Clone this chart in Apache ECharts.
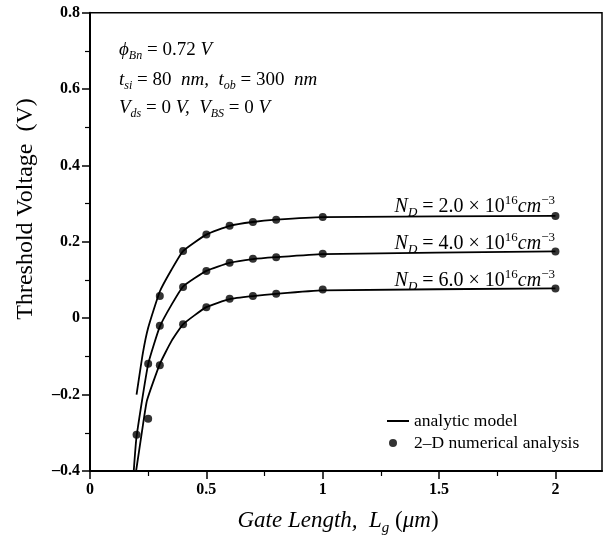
<!DOCTYPE html>
<html>
<head>
<meta charset="utf-8">
<script src="https://cdn.jsdelivr.net/npm/echarts@6/dist/echarts.min.js"></script>
<style>
  html, body { margin: 0; padding: 0; background: #fff; }
  #chart { width: 604px; height: 541px; }
</style>
</head>
<body>
<div id="chart"></div>
<script>
// ---------- data ----------
// analytic model curves (x in um, Vth in V)
const lineX_2e16 = [0.2, 0.227, 0.25, 0.3, 0.35, 0.4, 0.5, 0.6, 0.7, 0.8, 1.0, 2.0];
const lineY_2e16 = [-0.2, -0.092, -0.025, 0.07, 0.127, 0.176, 0.219, 0.242, 0.252, 0.258, 0.265, 0.268];
const lineX_4e16 = [0.188, 0.2, 0.25, 0.3, 0.35, 0.4, 0.5, 0.6, 0.7, 0.8, 1.0, 2.0];
const lineY_4e16 = [-0.4, -0.31, -0.12, -0.022, 0.035, 0.083, 0.124, 0.145, 0.155, 0.16, 0.168, 0.175];
const lineX_6e16 = [0.198, 0.225, 0.245, 0.3, 0.35, 0.4, 0.5, 0.6, 0.7, 0.8, 1.0, 2.0];
const lineY_6e16 = [-0.4, -0.29, -0.215, -0.12, -0.06, -0.016, 0.029, 0.05, 0.058, 0.064, 0.073, 0.078];

// 2-D numerical analysis points
const ptsX_2e16 = [0.3, 0.4, 0.5, 0.6, 0.7, 0.8, 1.0, 2.0];
const ptsY_2e16 = [0.058, 0.176, 0.219, 0.242, 0.252, 0.258, 0.265, 0.268];
const ptsX_4e16 = [0.2, 0.25, 0.3, 0.4, 0.5, 0.6, 0.7, 0.8, 1.0, 2.0];
const ptsY_4e16 = [-0.305, -0.119, -0.02, 0.082, 0.124, 0.145, 0.156, 0.16, 0.169, 0.175];
const ptsX_6e16 = [0.25, 0.3, 0.4, 0.5, 0.6, 0.7, 0.8, 1.0, 2.0];
const ptsY_6e16 = [-0.263, -0.123, -0.016, 0.029, 0.051, 0.058, 0.064, 0.075, 0.078];

const xMajorTicks = [0, 0.5, 1, 1.5, 2];
const xMinorTicks = [0.25, 0.75, 1.25, 1.75];
const legendNames = ['analytic model', '2\u2013D numerical analysis'];
const curveLabels = ['2.0', '4.0', '6.0'];

// ---------- helpers ----------
const zip = (xs, ys) => xs.map((x, i) => [x, ys[i]]);
const FONT = '"Liberation Serif", "Times New Roman", serif';

function makeRich(size, sub) {
  return {
    n: { fontFamily: FONT, fontSize: size, fontStyle: 'normal', lineHeight: size + 5, fill: '#000' },
    i: { fontFamily: FONT, fontSize: size, fontStyle: 'italic', lineHeight: size + 5, fill: '#000' },
    sub: { fontFamily: FONT, fontSize: sub, fontStyle: 'italic', lineHeight: sub + 1, verticalAlign: 'bottom', fill: '#000' },
    sup: { fontFamily: FONT, fontSize: sub, fontStyle: 'normal', lineHeight: sub + 1, verticalAlign: 'top', fill: '#000' }
  };
}

function textEl(text, x, y, align, rich, extra) {
  return Object.assign({
    type: 'text',
    x: x, y: y,
    style: {
      text: text,
      x: 0, y: 0,
      align: align,
      verticalAlign: 'middle',
      fontFamily: FONT,
      fontSize: 19,
      fill: '#000',
      rich: rich
    }
  }, extra || {});
}

const chart = echarts.init(document.getElementById('chart'), null, { renderer: 'canvas' });

const lineSeries = [
  zip(lineX_2e16, lineY_2e16), zip(lineX_4e16, lineY_4e16), zip(lineX_6e16, lineY_6e16)
].map(d => ({
  type: 'line', name: legendNames[0], data: d,
  symbol: 'none', smooth: 0.15,
  lineStyle: { color: '#000', width: 1.8 },
  itemStyle: { color: '#000' },
  animation: false, z: 2
}));

const pointSeries = [
  zip(ptsX_2e16, ptsY_2e16), zip(ptsX_4e16, ptsY_4e16), zip(ptsX_6e16, ptsY_6e16)
].map(d => ({
  type: 'scatter', name: legendNames[1], data: d,
  symbol: 'circle', symbolSize: 8,
  itemStyle: { color: '#000' },
  animation: false, z: 3
}));

const ndLabel = v => '{i|N}{sub|D}{n| = ' + v + ' \u00d7 10}{sup|16}{i|cm}{sup|\u22123}';
const annRich = makeRich(19, 12);
const ndRich = makeRich(20, 13);

const option = {
  backgroundColor: '#fff',
  animation: false,
  grid: {
    left: 90, top: 12.7, right: 2, bottom: 70,
    show: true, borderColor: '#000', borderWidth: 1.5, backgroundColor: 'transparent'
  },
  xAxis: [{
    type: 'value', min: 0, max: 2.2, interval: 0.5,
    axisLine: { show: true, onZero: false, lineStyle: { color: '#000', width: 2 } },
    axisTick: { show: true, inside: false, length: 8, customValues: xMajorTicks, lineStyle: { color: '#000', width: 1.5 } },
    axisLabel: {
      customValues: xMajorTicks, margin: 11,
      fontFamily: FONT, fontSize: 16, fontWeight: 'bold', color: '#000',
      formatter: v => String(v)
    },
    splitLine: { show: false }
  }, {
    type: 'value', min: 0, max: 2.2, position: 'bottom', gridIndex: 0,
    axisLine: { show: false, onZero: false },
    axisTick: { show: true, inside: false, length: 5, customValues: xMinorTicks, lineStyle: { color: '#000', width: 1.2 } },
    axisLabel: { show: false },
    splitLine: { show: false }
  }],
  yAxis: {
    type: 'value', min: -0.4, max: 0.8, interval: 0.2,
    axisLine: { show: true, onZero: false, lineStyle: { color: '#000', width: 2 } },
    axisTick: { show: true, inside: false, length: 8, lineStyle: { color: '#000', width: 1.5 } },
    minorTick: { show: true, splitNumber: 2, length: 5, lineStyle: { color: '#000', width: 1.2 } },
    axisLabel: {
      margin: 10, fontFamily: FONT, fontSize: 16, fontWeight: 'bold', color: '#000',
      formatter: v => String(Math.round(v * 10) / 10).replace('-', '\u2013')
    },
    splitLine: { show: false }
  },
  legend: {
    data: [
      { name: legendNames[0], icon: 'path://M0,3H22V5H0Z' },
      { name: legendNames[1], icon: 'path://M0,0M22,8M2,4A4,4,0,1,1,10,4A4,4,0,1,1,2,4Z' }
    ],
    orient: 'vertical', left: 382, top: 407,
    itemWidth: 22, itemHeight: 8, itemGap: 4,
    symbolKeepAspect: true,
    selectedMode: false,
    textStyle: { fontFamily: FONT, fontSize: 17.5, color: '#000' }
  },
  graphic: [
    textEl('{n|Threshold Voltage  (V)}', 26, 209, 'center',
      { n: { fontFamily: FONT, fontSize: 24, fill: '#000' } },
      { rotation: Math.PI / 2 }),
    textEl('{i|Gate Length,  L}{sub|g}{n| (}{i|\u03bcm}{n|)}', 338, 521, 'center', {
      n: { fontFamily: FONT, fontSize: 23, fontStyle: 'normal', lineHeight: 29, fill: '#000' },
      i: { fontFamily: FONT, fontSize: 23, fontStyle: 'italic', lineHeight: 29, fill: '#000' },
      sub: { fontFamily: FONT, fontSize: 15, fontStyle: 'italic', lineHeight: 16, verticalAlign: 'bottom', fill: '#000' }
    }),
    textEl('{i|\u03d5}{sub|Bn}{n| = 0.72 }{i|V}', 119, 50, 'left', annRich),
    textEl('{i|t}{sub|si}{n| = 80 }{i| nm,  t}{sub|ob}{n| = 300 }{i| nm}', 119, 80, 'left', annRich),
    textEl('{i|V}{sub|ds}{n| = 0 }{i|V,  V}{sub|BS}{n| = 0 }{i|V}', 119, 108, 'left', annRich),
    textEl(ndLabel(curveLabels[0]), 555, 207, 'right', ndRich),
    textEl(ndLabel(curveLabels[1]), 555, 244, 'right', ndRich),
    textEl(ndLabel(curveLabels[2]), 555, 281, 'right', ndRich)
  ],
  series: lineSeries.concat(pointSeries)
};

chart.setOption(option);
</script>
</body>
</html>
